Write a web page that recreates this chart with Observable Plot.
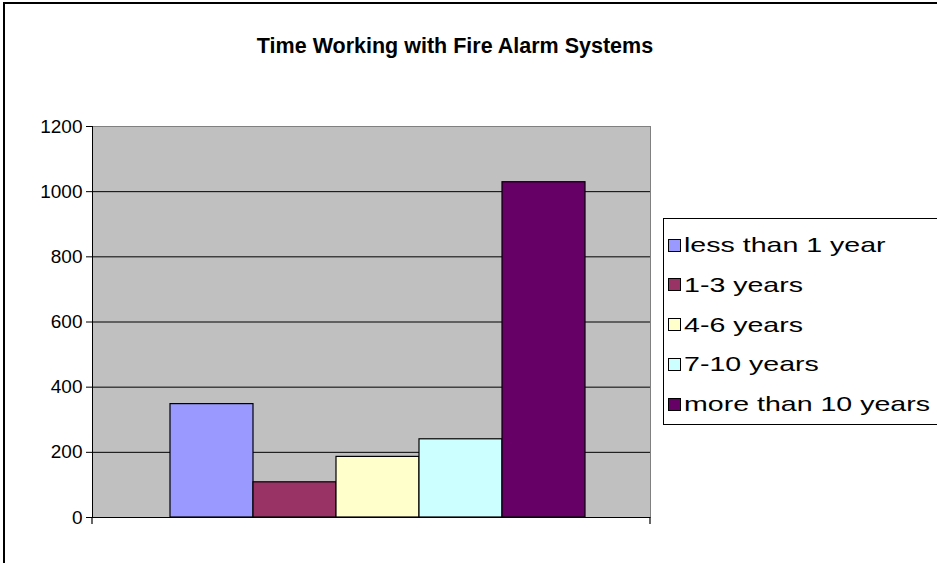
<!DOCTYPE html>
<html>
<head>
<meta charset="utf-8">
<script src="https://cdn.jsdelivr.net/npm/d3@7"></script>
<script src="https://cdn.jsdelivr.net/npm/@observablehq/plot@0.6"></script>
<style>
  html, body { margin: 0; padding: 0; background: #fff; }
  #wrap { position: relative; width: 937px; height: 563px; overflow: hidden; font-family: "Liberation Sans", Arial, sans-serif; }
  #outer { position: absolute; left: 3px; top: 2px; width: 2000px; height: 2000px; border-left: 2px solid #000; border-top: 2px solid #000; }
  #title { position: absolute; left: 0; width: 910px; top: 34px; text-align: center; font-weight: bold; font-size: 21.5px; color: #000; }
  #chart { position: absolute; left: 0; top: 0; }
  #legend { position: absolute; left: 663px; top: 218px; width: 400px; height: 205px; border: 1px solid #000; background: #fff; }
  .item { position: absolute; left: 4px; height: 26px; display: flex; align-items: center; font-size: 21px; color: #000; white-space: nowrap; }
  .sw { width: 11px; height: 11px; border: 1px solid #000; margin-right: 3px; flex: none; }
  .lbl { display: inline-block; transform-origin: left center; }
</style>
</head>
<body>
<div id="wrap">
  <div id="outer"></div>
  <div id="chart"></div>
  <div id="title"></div>
  <div id="legend"></div>
</div>
<script>
const titleText = "Time Working with Fire Alarm Systems";
const categories = ["less than 1 year", "1-3 years", "4-6 years", "7-10 years", "more than 10 years"];
const counts = [348, 108, 186, 240, 1029];
const colors = ["#9999FF", "#993366", "#FFFFCC", "#CCFFFF", "#660066"];
const yTicks = [0, 200, 400, 600, 800, 1000, 1200];

const data = categories.map((c, i) => ({category: c, value: counts[i]}));

const W = 937, H = 563;
const mL = 92, mR = 287, mT = 126, mB = 46;

const plot = Plot.plot({
  width: W,
  height: H,
  marginLeft: mL,
  marginRight: mR,
  marginTop: mT,
  marginBottom: mB,
  style: {fontFamily: "'Liberation Sans', Arial, sans-serif", fontSize: "19px", color: "#000", background: "transparent"},
  x: {domain: categories, range: [168, 586], padding: 0, axis: null},
  y: {domain: [0, 1200], ticks: yTicks},
  color: {domain: categories, range: colors},
  marks: [
    Plot.frame({fill: "#C0C0C0", stroke: "#808080"}),
    Plot.ruleY(yTicks.filter(d => d > 0 && d < 1200), {stroke: "#000", strokeWidth: 1}),
    Plot.barY(data, {x: "category", y: "value", fill: "category", stroke: "#000", strokeWidth: 1.2, inset: 0}),
    Plot.frame({anchor: "left", stroke: "#000"}),
    Plot.ruleY([0], {stroke: "#000", strokeWidth: 1.2}),
    Plot.axisY({ticks: yTicks, tickFormat: d => String(d), tickSize: 6, tickPadding: 4, fontSize: 19, label: null, stroke: "#000"})
  ]
});
document.getElementById("chart").appendChild(plot);

// end ticks on the category axis at the plot-area edges
const svg = d3.select(plot);
[mL, W - mR].forEach(x => {
  svg.append("line").attr("x1", x).attr("x2", x).attr("y1", H - mB).attr("y2", H - mB + 7)
    .attr("stroke", "#000").attr("stroke-width", 1.2);
});

document.getElementById("title").textContent = titleText;

const legend = d3.select("#legend");
const spans = [];
categories.forEach((c, i) => {
  const it = legend.append("div").attr("class", "item").style("top", (13 + i * 39.8) + "px");
  it.append("div").attr("class", "sw").style("background", colors[i]);
  spans.push(it.append("span").attr("class", "lbl").text(c).node());
});
// widen legend labels so the longest label spans the same width as in the reference
const longest = spans[spans.length - 1].getBoundingClientRect().width;
const k = 246 / longest;
spans.forEach(s => s.style.transform = `scaleX(${k})`);
</script>
</body>
</html>
